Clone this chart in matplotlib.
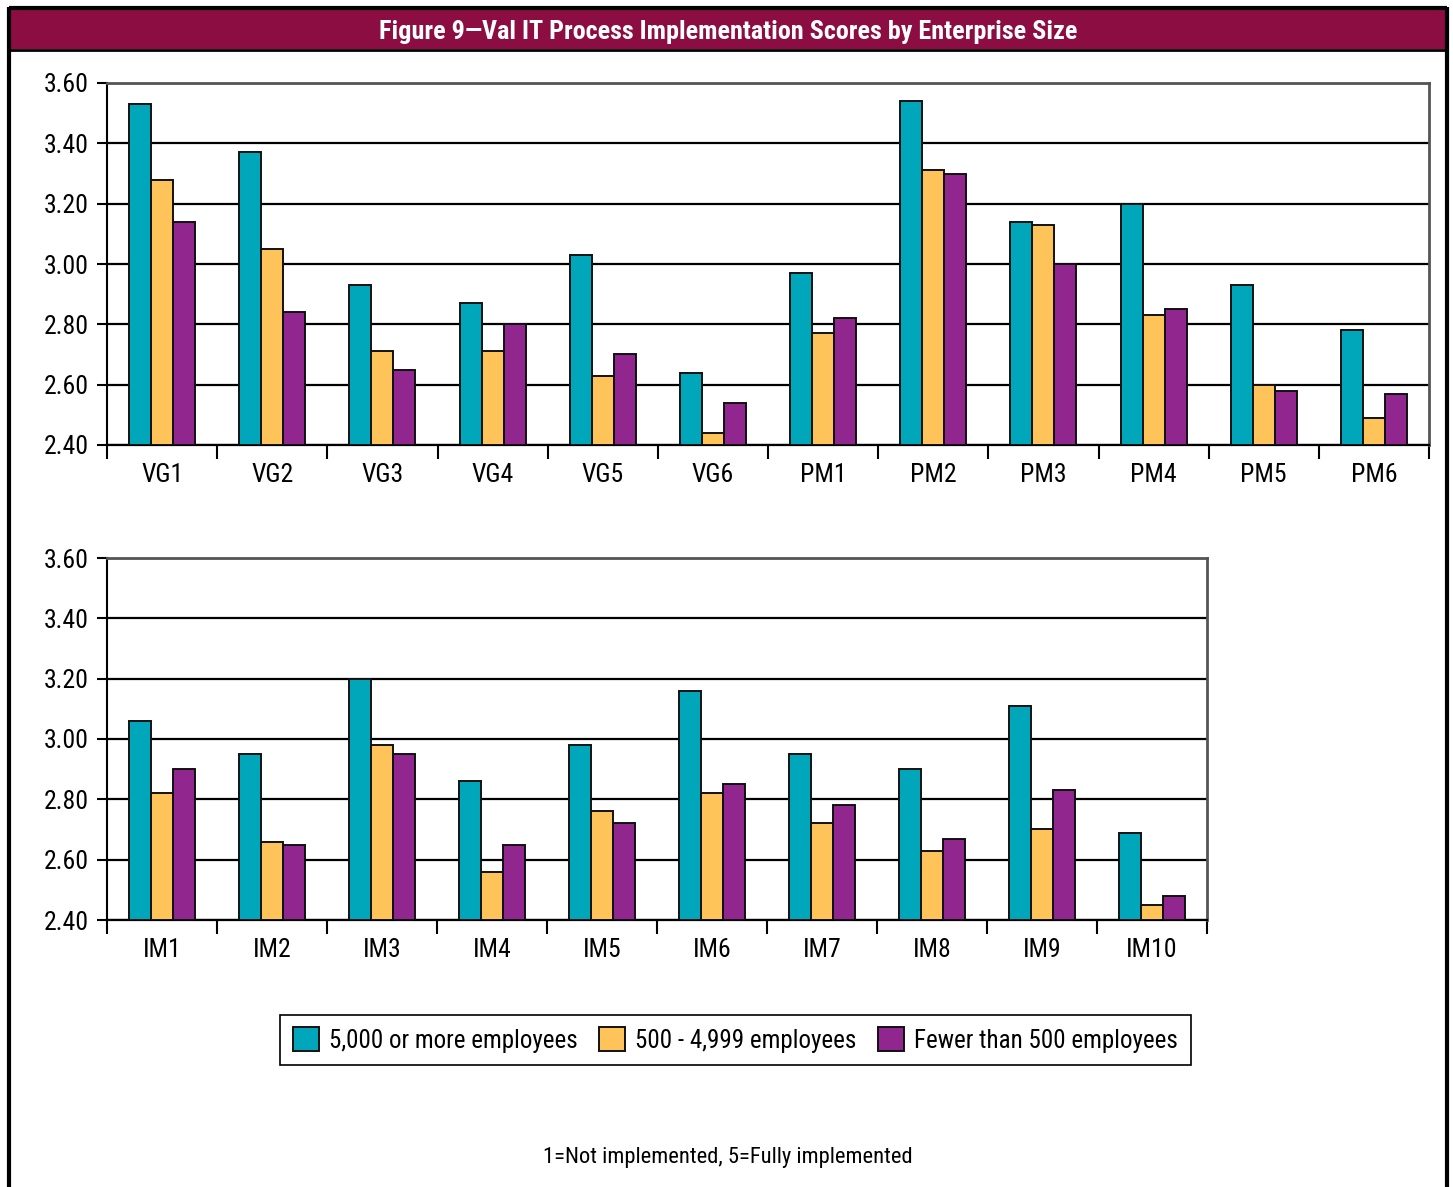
import matplotlib
matplotlib.use("Agg")
import matplotlib.pyplot as plt
from matplotlib.patches import Rectangle
from matplotlib.lines import Line2D
from matplotlib import font_manager
import numpy as np

# pick the narrowest available sans family
_installed = {f.name for f in font_manager.fontManager.ttflist}
_family = [f for f in ["Roboto Condensed", "Liberation Sans Narrow", "Roboto", "DejaVu Sans"]
           if f in _installed]
plt.rcParams['font.family'] = _family + ['DejaVu Sans']

# ---- data ----
title = "Figure 9\u2014Val IT Process Implementation Scores by Enterprise Size"
series_names = ["5,000 or more employees", "500 - 4,999 employees", "Fewer than 500 employees"]
colors = ["#00A6B9", "#FEC459", "#91268F"]

top_categories = ["VG1", "VG2", "VG3", "VG4", "VG5", "VG6",
                  "PM1", "PM2", "PM3", "PM4", "PM5", "PM6"]
top_large = [3.53, 3.37, 2.93, 2.87, 3.03, 2.64, 2.97, 3.54, 3.14, 3.20, 2.93, 2.78]
top_medium = [3.28, 3.05, 2.71, 2.71, 2.63, 2.44, 2.77, 3.31, 3.13, 2.83, 2.60, 2.49]
top_small = [3.14, 2.84, 2.65, 2.80, 2.70, 2.54, 2.82, 3.30, 3.00, 2.85, 2.58, 2.57]

bottom_categories = ["IM1", "IM2", "IM3", "IM4", "IM5",
                     "IM6", "IM7", "IM8", "IM9", "IM10"]
bottom_large = [3.06, 2.95, 3.20, 2.86, 2.98, 3.16, 2.95, 2.90, 3.11, 2.69]
bottom_medium = [2.82, 2.66, 2.98, 2.56, 2.76, 2.82, 2.72, 2.63, 2.70, 2.45]
bottom_small = [2.90, 2.65, 2.95, 2.65, 2.72, 2.85, 2.78, 2.67, 2.83, 2.48]

y_ticks = [2.40, 2.60, 2.80, 3.00, 3.20, 3.40, 3.60]
footnote = "1=Not implemented, 5=Fully implemented"

# ---- figure ----
W, H = 1453, 1187
DPI = 100
fig = plt.figure(figsize=(W / DPI, H / DPI), dpi=DPI)
fig.patch.set_facecolor("white")


def px_axes(left, top, right, bottom):
    return fig.add_axes([left / W, 1 - bottom / H, (right - left) / W, (bottom - top) / H])


# outer frame and title band
fig.add_artist(Rectangle((9 / W, 1 - 49 / H), (1447 - 9) / W, (49 - 8) / H,
                         transform=fig.transFigure, facecolor="#8B0D42",
                         edgecolor="none", zorder=0))
frame_kw = dict(transform=fig.transFigure, color="black", lw=3, solid_capstyle="butt")
fig.add_artist(Line2D([9 / W, 9 / W], [1 - 7 / H, 0], **frame_kw))
fig.add_artist(Line2D([1447 / W, 1447 / W], [1 - 7 / H, 0], **frame_kw))
fig.add_artist(Line2D([9 / W, 1447 / W], [1 - 8 / H, 1 - 8 / H], **frame_kw))
fig.add_artist(Line2D([9 / W, 1447 / W], [1 - 49.5 / H, 1 - 49.5 / H],
                      transform=fig.transFigure, color="black", lw=2))
fig.text(728 / W, 1 - 31.5 / H, title, color="white", fontsize=18.8, fontweight="bold",
         ha="center", va="center")

bar_w = 0.2
TICK_FS = 18.5


def draw_panel(ax, cats, vals):
    n = len(cats)
    x = np.arange(n) + 0.5
    for k, (v, c) in enumerate(zip(vals, colors)):
        ax.bar(x + (k - 1) * bar_w, np.array(v) - 2.40, bottom=2.40, width=bar_w,
               color=c, edgecolor="#111111", linewidth=1.4, zorder=3,
               label=series_names[k])
    ax.set_xlim(0, n)
    ax.set_ylim(2.40, 3.60)
    ax.set_yticks(y_ticks)
    ax.set_yticklabels([f"{t:.2f}" for t in y_ticks])
    ax.yaxis.grid(True, color="black", linewidth=1.6, zorder=1)
    ax.set_axisbelow(True)
    ax.set_xticks(np.arange(n + 1))
    ax.set_xticklabels([])
    ax.set_xticks(x, minor=True)
    ax.set_xticklabels(cats, minor=True)
    ax.tick_params(axis="x", which="major", length=10, width=1.5, color="black",
                   direction="out")
    ax.tick_params(axis="x", which="minor", length=0, pad=13, labelsize=TICK_FS)
    ax.tick_params(axis="y", which="major", length=7, width=1.5, direction="out",
                   pad=6, labelsize=TICK_FS)
    ax.spines["left"].set_color("black")
    ax.spines["left"].set_linewidth(1.5)
    ax.spines["bottom"].set_color("black")
    ax.spines["bottom"].set_linewidth(1.6)
    ax.spines["top"].set_color("#555555")
    ax.spines["top"].set_linewidth(2)
    ax.spines["right"].set_color("#555555")
    ax.spines["right"].set_linewidth(2)


ax1 = px_axes(107, 83, 1429, 445)
draw_panel(ax1, top_categories, [top_large, top_medium, top_small])

ax2 = px_axes(107, 558, 1207, 920)
draw_panel(ax2, bottom_categories, [bottom_large, bottom_medium, bottom_small])

handles, labels = ax1.get_legend_handles_labels()
leg = fig.legend(handles, labels, loc="center", ncol=3,
                 bbox_to_anchor=(735.5 / W, 1 - 1040 / H), fontsize=18,
                 frameon=True, fancybox=False, edgecolor="black", framealpha=1,
                 handlelength=1.05, handleheight=1.1, handletextpad=0.4,
                 columnspacing=0.85, borderpad=0.5, borderaxespad=0)
leg.get_frame().set_linewidth(1.2)

fig.text(728 / W, 1 - 1157 / H, footnote, fontsize=16.2, ha="center", va="center")

fig.savefig("out.png", dpi=DPI)
